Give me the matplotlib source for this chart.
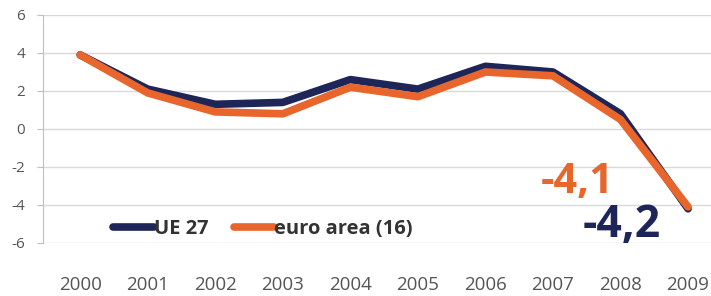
import matplotlib
matplotlib.use("Agg")
import matplotlib.pyplot as plt

years = ["2000", "2001", "2002", "2003", "2004", "2005", "2006", "2007", "2008", "2009"]
ue27 = [3.9, 2.1, 1.3, 1.4, 2.6, 2.1, 3.3, 3.0, 0.8, -4.2]
euro16 = [3.9, 1.9, 0.9, 0.8, 2.2, 1.7, 3.0, 2.8, 0.5, -4.1]
yticks = [-6, -4, -2, 0, 2, 4, 6]

NAVY = "#1e2558"
ORANGE = "#e8652c"

plt.rcParams["font.family"] = ["Open Sans", "DejaVu Sans"]

fig = plt.figure(figsize=(7.11, 2.96), dpi=100)
ax = fig.add_axes([43 / 711, 53 / 296, 668 / 711, 228 / 296])

x = list(range(len(years)))
ax.plot(x, ue27, color=NAVY, lw=5.5, solid_capstyle="round", solid_joinstyle="round", label="UE 27", zorder=3)
ax.plot(x, euro16, color=ORANGE, lw=5.5, solid_capstyle="round", solid_joinstyle="round", label="euro area (16)", zorder=4)

ax.set_xlim(-0.55, 9.34)
ax.set_ylim(-6, 6)
ax.set_yticks(yticks)
ax.set_yticklabels([str(v) for v in yticks])
ax.set_xticks(x)
ax.set_xticklabels(years)

ax.grid(axis="y", color="#d9d9d9", lw=1)
for s in ["top", "right", "bottom"]:
    ax.spines[s].set_visible(False)
ax.spines["left"].set_color("#bfbfbf")
ax.tick_params(axis="y", length=4, color="#bfbfbf", pad=9, labelsize=11, labelcolor="#555555")
ax.tick_params(axis="x", length=0, pad=24, labelsize=13.5, labelcolor="#555555")

ax.text(7.36, -2.8, "-4,1", color=ORANGE, fontsize=30, fontweight="bold", ha="center", va="center")
ax.text(8.02, -5.1, "-4,2", color=NAVY, fontsize=32, fontweight="bold", ha="center", va="center")

leg = ax.legend(loc="lower left", bbox_to_anchor=(0.078, -0.06), ncol=2, frameon=False,
                handlelength=2.0, handletextpad=0.0, columnspacing=1.3,
                prop={"size": 14.5, "weight": "bold"})
for t in leg.get_texts():
    t.set_color("#333333")

fig.savefig("out.png", dpi=100)
